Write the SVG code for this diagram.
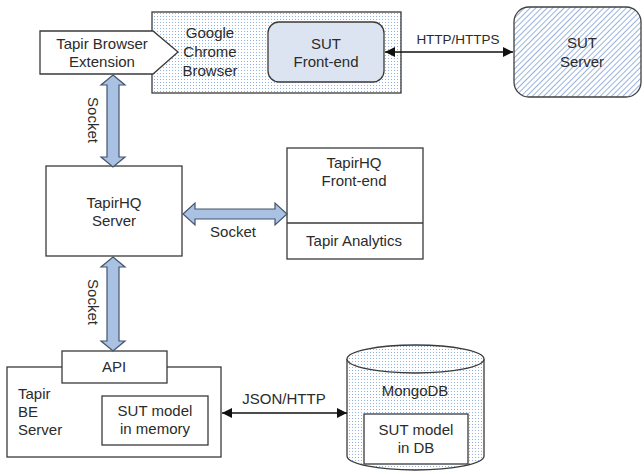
<svg xmlns="http://www.w3.org/2000/svg" width="643" height="473" viewBox="0 0 643 473">
<defs>
<pattern id="dots" width="3" height="3" patternUnits="userSpaceOnUse">
<rect width="3" height="3" fill="#ffffff"/>
<rect x="1" y="1" width="1" height="1" fill="#8fb0e0"/>
</pattern>
<pattern id="hatch" width="4" height="4" patternUnits="userSpaceOnUse" patternTransform="rotate(45)">
<rect width="4" height="4" fill="#ffffff"/>
<line x1="0" y1="0" x2="0" y2="4" stroke="#6f93cf" stroke-width="1.4"/>
</pattern>
<marker id="tri" viewBox="0 0 10 10" refX="10" refY="5" markerWidth="10" markerHeight="10" markerUnits="userSpaceOnUse" orient="auto-start-reverse">
<path d="M0,0 L10,5 L0,10 z" fill="#111"/>
</marker>
</defs>
<style>
text{font-family:"Liberation Sans",Arial,sans-serif;font-size:15px;fill:#2b2b2b}
.c{text-anchor:middle}
.box{fill:#ffffff;stroke:#3a3a3a;stroke-width:1.3}
.big{fill:#a9c1e3;stroke:#44546a;stroke-width:1.2}
.line{stroke:#111;stroke-width:1.3;fill:none}
</style>

<g id="chrome">
<rect x="152" y="12" width="249" height="81" fill="url(#dots)" stroke="#3a3a3a" stroke-width="1.3"/>
<text class="c" x="210" y="38">Google</text>
<text class="c" x="210" y="57">Chrome</text>
<text class="c" x="210" y="76">Browser</text>
</g>
<g id="extension">
<polygon class="box" points="40,31 153,31 178,52 153,74 40,74"/>
<text class="c" x="102" y="49">Tapir Browser</text>
<text class="c" x="102" y="67">Extension</text>
</g>
<g id="sut-frontend">
<rect x="268" y="22" width="116" height="60" rx="11" fill="#dce4f1" stroke="#3a3a3a" stroke-width="1.3"/>
<text class="c" x="326" y="49">SUT</text>
<text class="c" x="326" y="67">Front-end</text>
</g>
<g id="sut-server">
<rect x="514" y="7" width="127" height="90" rx="15" fill="url(#hatch)" stroke="#404040" stroke-width="1.3"/>
<text class="c" x="582" y="48">SUT</text>
<text class="c" x="582" y="67">Server</text>
</g>
<g id="tapirhq-server">
<rect class="box" x="46" y="166" width="136" height="90"/>
<text class="c" x="114" y="208">TapirHQ</text>
<text class="c" x="114" y="226">Server</text>
</g>
<g id="tapirhq-frontend">
<rect class="box" x="287" y="148" width="136" height="111"/>
<line x1="287" y1="223" x2="423" y2="223" stroke="#3a3a3a" stroke-width="1.3"/>
<text class="c" x="354" y="168">TapirHQ</text>
<text class="c" x="354" y="186">Front-end</text>
<text class="c" x="354" y="246">Tapir Analytics</text>
</g>
<g id="be-server">
<rect class="box" x="7" y="367" width="214" height="90"/>
<text x="18" y="399">Tapir</text>
<text x="18" y="417">BE</text>
<text x="18" y="435">Server</text>
</g>
<g id="api">
<rect class="box" x="62" y="351" width="105" height="32"/>
<text class="c" x="114" y="372">API</text>
</g>
<g id="sut-model-memory">
<rect class="box" x="102" y="396" width="106" height="49"/>
<text class="c" x="155" y="416">SUT model</text>
<text class="c" x="155" y="434">in memory</text>
</g>
<g id="mongodb">
<path d="M347,359 L347,456 A68.5,14 0 0 0 484,456 L484,359" fill="url(#dots)" stroke="#3a3a3a" stroke-width="1.3"/>
<ellipse cx="415.5" cy="359" rx="68.5" ry="14" fill="url(#dots)" stroke="#3a3a3a" stroke-width="1.3"/>
<text class="c" x="415" y="396">MongoDB</text>
</g>
<g id="sut-model-db">
<rect class="box" x="364" y="414" width="104" height="50"/>
<text class="c" x="416" y="435">SUT model</text>
<text class="c" x="416" y="453">in DB</text>
</g>

<g id="connectors">
<polygon class="big" points="113,75 125,85 119,85 119,157 125,157 113,167 101,157 107,157 107,85 101,85"/>
<text class="c" transform="translate(88,120) rotate(90)">Socket</text>
<polygon class="big" points="183,214 195,203 195,209 275,209 275,203 287,214 275,225 275,219 195,219 195,225"/>
<text class="c" x="233" y="237">Socket</text>
<polygon class="big" points="113,257 125,267 119,267 119,341 125,341 113,351 101,341 107,341 107,267 101,267"/>
<text class="c" transform="translate(88,302) rotate(90)">Socket</text>
<line class="line" x1="385" y1="52" x2="513" y2="52" marker-start="url(#tri)" marker-end="url(#tri)"/>
<text class="c" x="458" y="44" style="font-size:13.5px">HTTP/HTTPS</text>
<line class="line" x1="222" y1="413" x2="347" y2="413" marker-start="url(#tri)" marker-end="url(#tri)"/>
<text class="c" x="284" y="404">JSON/HTTP</text>
</g>
</svg>
